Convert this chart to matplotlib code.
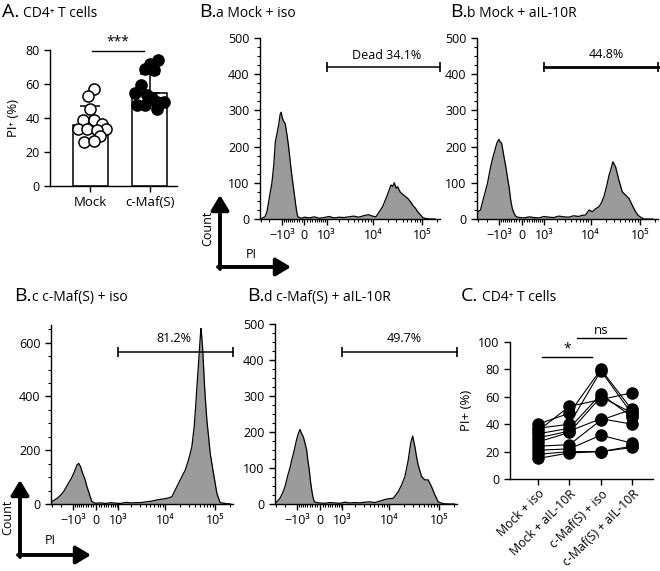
import numpy as np
import matplotlib
matplotlib.use('Agg')
from matplotlib import pyplot as plt
from matplotlib.patches import FancyArrowPatch
from matplotlib.ticker import MultipleLocator

plt.rcParams['font.family'] = ['Open Sans', 'Noto Sans', 'DejaVu Sans']
plt.rcParams['font.size'] = 9
plt.rcParams['axes.linewidth'] = 1.0

# ---- panel A data
a_groups = ['Mock', 'c-Maf(S)']
a_means = [36, 54.6]
a_sd = [11.3, 11.2]
a_mock = [57, 53, 45, 39, 38.6, 36.5, 33.6, 33.6, 33.6, 33, 29.3, 25.8, 26.3]
a_mock_dx = [0.07, -0.03, 0.0, -0.12, 0.06, 0.2, -0.21, -0.05, 0.27, 0.11, 0.17, -0.11, 0.06]
a_cmaf = [74, 71.6, 68.7, 68.0, 59.5, 54.6, 53.7, 51.7, 47.8, 47.8, 49.2, 49.2, 45.3]
a_cmaf_dx = [0.14, 0.0, -0.07, 0.07, -0.14, -0.24, -0.04, 0.04, -0.22, -0.07, 0.13, 0.24, 0.13]

# ---- histogram data (x in display channel units of the biexponential PI axis)
ba_u = [-0.90, -0.85, -0.80, -0.76, -0.73, -0.70, -0.66, -0.62, -0.59, -0.55, -0.52, -0.49, -0.47,
        -0.45, -0.42, -0.39, -0.35, -0.32, -0.28, -0.25, -0.21, -0.18, -0.15, -0.13, -0.10, -0.05,
        0.0, 0.1, 0.2, 0.3, 0.4, 0.5, 0.6, 0.7, 0.8, 0.9, 1.0, 1.1, 1.2, 1.3, 1.38,
        1.45, 1.52, 1.585, 1.64, 1.687, 1.72, 1.755, 1.79, 1.823, 1.86, 1.891, 1.94, 1.993, 2.04,
        2.095, 2.15, 2.197, 2.25, 2.299, 2.35, 2.401, 2.469, 2.55, 2.65]
ba_n = [0, 3, 6, 20, 43, 68, 98, 150, 212, 240, 262, 290, 295,
        280, 270, 264, 230, 200, 150, 116, 75, 43, 15, 6, 4, 2,
        5, 3, 6, 2, 4, 7, 3, 5, 4, 6, 8, 5, 9, 12, 8,
        6, 20, 34, 52, 68, 80, 94, 90, 100, 85, 89, 75, 68, 63,
        57, 48, 38, 30, 20, 12, 4, 1, 0, 0]

bb_u = [-0.90, -0.83, -0.76, -0.69, -0.625, -0.59, -0.557, -0.52, -0.49, -0.456, -0.43, -0.403,
        -0.356, -0.32, -0.288, -0.25, -0.221, -0.19, -0.154, -0.12, -0.087, -0.03, 0.05, 0.15,
        0.25, 0.35, 0.45, 0.55, 0.65, 0.75, 0.85, 0.95, 1.05, 1.15, 1.22, 1.29, 1.36, 1.425,
        1.49, 1.559, 1.61, 1.66, 1.727, 1.76, 1.794, 1.841, 1.87, 1.895, 1.93, 1.962, 2.03,
        2.097, 2.164, 2.231, 2.298, 2.35, 2.399, 2.466, 2.55, 2.65]
bb_n = [18, 25, 62, 98, 144, 165, 181, 200, 213, 220, 212, 209,
        172, 145, 117, 85, 53, 30, 16, 8, 5, 4, 3, 6,
        4, 3, 7, 5, 4, 8, 6, 5, 9, 7, 10, 11, 25, 20,
        28, 34, 45, 62, 98, 120, 135, 158, 150, 144, 125, 107, 75,
        66, 57, 38, 20, 10, 5, 0, 0, 0]

bc_u = [-0.90, -0.88, -0.83, -0.78, -0.71, -0.647, -0.58, -0.513, -0.48, -0.446, -0.41, -0.38,
        -0.346, -0.31, -0.28, -0.245, -0.213, -0.18, -0.146, -0.11, -0.08, -0.013, 0.1, 0.2,
        0.3, 0.4, 0.5, 0.6, 0.7, 0.8, 0.89, 1.0, 1.1, 1.224, 1.32, 1.425, 1.525, 1.591,
        1.658, 1.725, 1.792, 1.858, 1.925, 1.972, 2.0, 2.026, 2.05, 2.072, 2.09, 2.106,
        2.12, 2.139, 2.16, 2.18, 2.2, 2.226, 2.26, 2.293, 2.359, 2.426, 2.493, 2.593, 2.7]
bc_n = [5, 9, 15, 21, 32, 46, 68, 89, 100, 114, 130, 145,
        151, 140, 122, 105, 89, 65, 46, 25, 9, 3, 4, 2,
        5, 3, 2, 6, 4, 5, 5, 8, 10, 15, 18, 21, 27, 52,
        77, 102, 126, 164, 213, 288, 360, 436, 500, 560, 610, 653,
        630, 585, 510, 436, 380, 312, 250, 188, 114, 40, 5, 2, 0]

bd_u = [-0.90, -0.85, -0.80, -0.75, -0.70, -0.633, -0.6, -0.565, -0.53, -0.499, -0.465, -0.432,
        -0.399, -0.365, -0.333, -0.3, -0.265, -0.24, -0.212, -0.19, -0.164, -0.14, -0.112, -0.032,
        0.1, 0.2, 0.3, 0.4, 0.5, 0.6, 0.7, 0.8, 0.9, 1.0, 1.1, 1.2, 1.271, 1.35,
        1.471, 1.571, 1.639, 1.705, 1.74, 1.772, 1.82, 1.86, 1.906, 1.94, 1.972, 2.04,
        2.106, 2.172, 2.24, 2.307, 2.373, 2.473, 2.6, 2.7]
bd_n = [2, 8, 16, 30, 48, 85, 100, 122, 140, 159, 180, 196,
        207, 195, 187, 170, 150, 120, 94, 65, 39, 20, 6, 3,
        2, 4, 3, 2, 5, 3, 4, 3, 5, 6, 4, 8, 11, 14,
        16, 34, 53, 76, 100, 122, 168, 189, 159, 130, 108, 76,
        67, 67, 48, 25, 6, 1, 0, 0]

pi_tick_vals = [-1e3, 0, 1e3, 1e4, 1e5]
pi_tick_labels = ['\u221210\u00b3', '0', '10\u00b3', '10\u2074', '10\u2075']

# ---- panel C data (one entry per donor)
c_groups = ['Mock + iso', 'Mock + aIL-10R', 'c-Maf(S) + iso', 'c-Maf(S) + aIL-10R']
c_mock_iso = [40, 37, 35, 33, 30, 27, 24, 21, 18, 15]
c_mock_ail = [48, 40, 53, 37, 35, 34, 25, 22, 20, 19]
c_cmaf_iso = [80, 79, 58, 62, 44, 60, 43, 32, 20, 20]
c_cmaf_ail = [50, 47, 63, 45, 40, 48, 51, 26, 24, 23]

W, H = 660, 571
fig = plt.figure(figsize=(W / 100, H / 100), dpi=100)
renderer = fig.canvas.get_renderer()


def px_axes(l, t, r, b):
    ax = fig.add_axes([l / W, 1 - b / H, (r - l) / W, (b - t) / H])
    ax.spines['top'].set_visible(False)
    ax.spines['right'].set_visible(False)
    ax.tick_params(direction='out', length=4, width=1, labelsize=9)
    return ax


def biex(v):
    return np.arcsinh(np.asarray(v, dtype=float) / 814.0) / np.log(10)


def title(x, y, big, small, gap):
    t = fig.text(x / W, 1 - y / H, big, fontsize=14, va='baseline')
    x1 = t.get_window_extent(renderer).x1
    fig.text((x1 + gap) / W, 1 - y / H, small, fontsize=10, va='baseline')


def corner_arrows(cx, cy, top, right, count_xy, pi_xy):
    for end in [(cx, top), (right, cy)]:
        start = (cx, cy + 2) if end[0] == cx else (cx - 2, cy)
        fig.add_artist(FancyArrowPatch((start[0] / W, 1 - start[1] / H), (end[0] / W, 1 - end[1] / H),
                                       transform=fig.transFigure, arrowstyle='-|>,head_length=0.5,head_width=0.3',
                                       mutation_scale=18, lw=2.8, color='k', shrinkA=0, shrinkB=0))
    fig.text(count_xy[0] / W, 1 - count_xy[1] / H, 'Count', rotation=90, ha='center', va='center', fontsize=9)
    fig.text(pi_xy[0] / W, 1 - pi_xy[1] / H, 'PI', ha='center', va='center', fontsize=9)


# ---------------- A
axA = px_axes(50, 50, 177, 186)
xa = np.arange(len(a_groups))
axA.bar(xa, a_means, width=0.59, color='white', edgecolor='k', lw=1.1, zorder=1)
axA.errorbar(xa, a_means, yerr=[[0, 0], a_sd], fmt='none', ecolor='k', elinewidth=1.1,
             capsize=7, capthick=1.1, zorder=2)
axA.plot(xa[0] + np.array(a_mock_dx), a_mock, 'o', mfc='white', mec='k', ms=8, mew=1.1, zorder=3)
axA.plot(xa[1] + np.array(a_cmaf_dx), a_cmaf, 'o', mfc='k', mec='k', ms=8, mew=1.1, zorder=3)
axA.set_xlim(-0.676, 1.46)
axA.set_ylim(0, 80)
axA.set_yticks([0, 20, 40, 60, 80])
axA.set_xticks(xa)
axA.set_xticklabels(a_groups, fontsize=9.5)
axA.set_ylabel('PI\u207a (%)', fontsize=9.5, labelpad=4)
axA.plot([0.03, 0.9], [79.6, 79.6], 'k', lw=1, clip_on=False)
axA.text(0.46, 80.3, '***', ha='center', va='bottom', fontsize=10)
title(2, 17, 'A.', 'CD4\u207a T cells', 4)


# ---------------- B histograms
def hist_panel(box, u, n, ymax, ystep, yminor, gate_y, gate_lw, label, label_u, label_y):
    ax = px_axes(*box)
    ax.fill_between(u, n, color='#9b9b9b', lw=0)
    ax.plot(u, n, color='k', lw=0.9)
    ax.set_xlim(-0.9, 2.75)
    ax.set_ylim(0, ymax)
    ax.yaxis.set_major_locator(MultipleLocator(ystep))
    ax.yaxis.set_minor_locator(MultipleLocator(yminor))
    ax.set_xticks(biex(pi_tick_vals))
    ax.set_xticklabels(pi_tick_labels, fontsize=9)
    minors = [-3000, -2000] + [s * k * 100 for s in (-1, 1) for k in range(1, 10)] + \
             [k * 1000 for k in range(2, 10)] + [k * 10000 for k in range(2, 10)] + [2e5]
    ax.set_xticks(biex(minors), minor=True)
    ax.tick_params(which='minor', length=2, width=0.8)
    g0, g1 = biex(1000), 2.75
    ax.plot([g0, g1], [gate_y, gate_y], color='k', lw=gate_lw, clip_on=False)
    ax.plot([g0, g1], [gate_y, gate_y], ls='none', marker='|', ms=7, mew=1.2, color='k', clip_on=False)
    ax.text(label_u, label_y, label, ha='center', va='center', fontsize=9)
    return ax


hist_panel((260, 38, 440, 219), ba_u, ba_n, 500, 100, 25, 420, 1.1, 'Dead 34.1%', 1.67, 453)
title(199, 17, 'B.', 'a Mock + iso', 0)
corner_arrows(220, 267, 195, 291, (208, 228), (251, 254))

hist_panel((477, 38, 658, 219), bb_u, bb_n, 500, 100, 25, 420, 2.0, '44.8%', 1.70, 455)
title(450, 17, 'B.', 'b Mock + aIL-10R', 0)

hist_panel((51, 325, 233, 504), bc_u, bc_n, 666, 200, 50, 567, 1.1, '81.2%', 1.57, 617)
title(14, 301, 'B.', 'c c-Maf(S) + iso', 0)
corner_arrows(20, 555, 480, 91, (8, 517), (50, 540))

hist_panel((275, 324, 457, 504), bd_u, bd_n, 500, 100, 25, 423, 1.1, '49.7%', 1.69, 461)
title(247, 301, 'B.', 'd c-Maf(S) + aIL-10R', 0)

# ---------------- C
axC = px_axes(510, 342, 653, 479)
xc = np.arange(len(c_groups))
c_data = np.array([c_mock_iso, c_mock_ail, c_cmaf_iso, c_cmaf_ail])
for d in range(c_data.shape[1]):
    axC.plot(xc, c_data[:, d], color='k', lw=0.8, zorder=2)
for i in xc:
    axC.plot(np.full(c_data.shape[1], i), c_data[i], 'o', color='k', ms=8, zorder=3)
axC.set_xlim(-0.88, 3.65)
axC.set_ylim(0, 100)
axC.set_yticks([0, 20, 40, 60, 80, 100])
axC.set_xticks(xc)
axC.tick_params(axis='x', pad=2)
axC.set_xticklabels(c_groups, rotation=45, ha='right', rotation_mode='anchor', fontsize=8.8)
axC.set_ylabel('PI+ (%)', fontsize=9.5, labelpad=4)
axC.plot([0.13, 1.71], [88.8, 88.8], 'k', lw=1, clip_on=False)
axC.text(0.92, 89.5, '*', ha='center', va='bottom', fontsize=10)
axC.plot([1.23, 2.79], [103, 103], 'k', lw=1, clip_on=False)
axC.text(2.0, 104, 'ns', ha='center', va='bottom', fontsize=9.5)
title(461, 301, 'C.', 'CD4\u207a T cells', 4)

fig.savefig('out.png', dpi=100)
